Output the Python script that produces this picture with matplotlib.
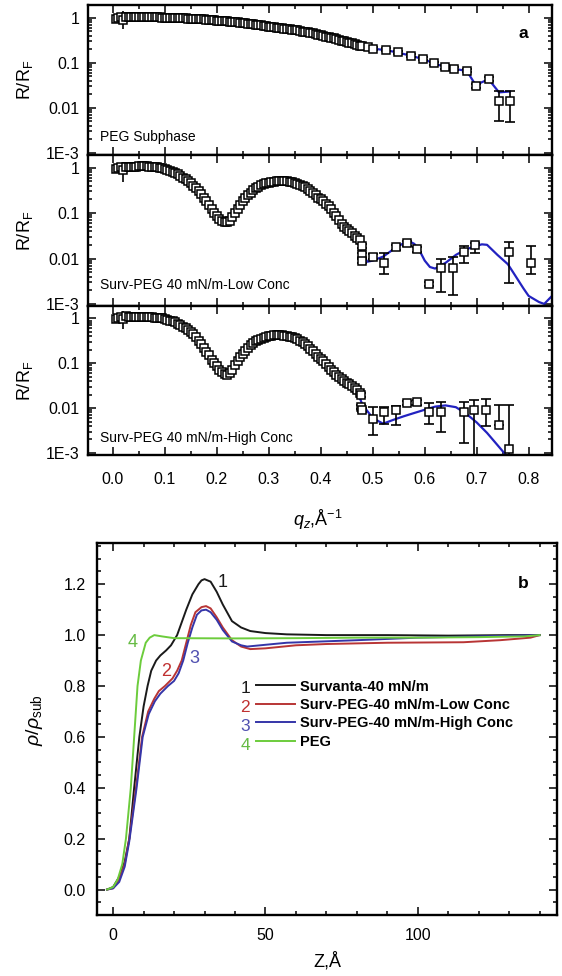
import numpy as np
import matplotlib
matplotlib.use('Agg')
import matplotlib.pyplot as plt
from matplotlib.ticker import FixedLocator, LogLocator, MultipleLocator, NullFormatter, FormatStrFormatter

plt.rcParams['font.family'] = ['Liberation Sans', 'DejaVu Sans']
plt.rcParams['mathtext.fontset'] = 'custom'
plt.rcParams['mathtext.rm'] = 'Liberation Sans'
plt.rcParams['mathtext.it'] = 'Liberation Sans:italic'
plt.rcParams['mathtext.bf'] = 'Liberation Sans:bold'

#------- (a) reflectivity data -------#
q_dense = [0.005, 0.010, 0.015, 0.020, 0.025, 0.030, 0.035, 0.040, 0.045, 0.050,
           0.055, 0.060, 0.065, 0.070, 0.075, 0.080, 0.085, 0.090, 0.095, 0.100,
           0.105, 0.110, 0.115, 0.120, 0.125, 0.130, 0.135, 0.140, 0.145, 0.150,
           0.155, 0.160, 0.165, 0.170, 0.175, 0.180, 0.185, 0.190, 0.195, 0.200,
           0.205, 0.210, 0.215, 0.220, 0.225, 0.230, 0.235, 0.240, 0.245, 0.250,
           0.255, 0.260, 0.265, 0.270, 0.275, 0.280, 0.285, 0.290, 0.295, 0.300,
           0.305, 0.310, 0.315, 0.320, 0.325, 0.330, 0.335, 0.340, 0.345, 0.350,
           0.355, 0.360, 0.365, 0.370, 0.375, 0.380, 0.385, 0.390, 0.395, 0.400,
           0.405, 0.410, 0.415, 0.420, 0.425, 0.430, 0.435, 0.440, 0.445, 0.450,
           0.455, 0.460, 0.465, 0.470, 0.475]

# PEG subphase
r_peg = [0.95, 1.0, 1.05, 0.9, 1.05, 1.03, 1.04, 1.04, 1.04, 1.04,
         1.03, 1.03, 1.03, 1.03, 1.02, 1.02, 1.02, 1.01, 1.0, 1.0,
         0.99, 0.99, 0.98, 0.98, 0.97, 0.97, 0.96, 0.96, 0.95, 0.95,
         0.94, 0.93, 0.93, 0.92, 0.91, 0.9, 0.89, 0.88, 0.87, 0.86,
         0.85, 0.84, 0.83, 0.82, 0.81, 0.8, 0.79, 0.78, 0.77, 0.76,
         0.75, 0.73, 0.72, 0.71, 0.70, 0.68, 0.67, 0.65, 0.64, 0.63,
         0.62, 0.61, 0.60, 0.59, 0.58, 0.57, 0.56, 0.55, 0.54, 0.53,
         0.52, 0.50, 0.49, 0.48, 0.47, 0.46, 0.45, 0.43, 0.42, 0.41,
         0.40, 0.38, 0.37, 0.36, 0.35, 0.33, 0.32, 0.31, 0.30, 0.29,
         0.28, 0.27, 0.26, 0.25, 0.24]
q_peg_sp = [0.48, 0.49, 0.50, 0.525, 0.548, 0.573, 0.597, 0.618, 0.639, 0.656,
            0.681, 0.698, 0.723, 0.743, 0.764]
r_peg_sp = [0.235, 0.22, 0.205, 0.195, 0.17, 0.143, 0.123, 0.096, 0.08, 0.074,
            0.067, 0.031, 0.044, 0.0145, 0.0145]
lo_peg_sp = [0.22, 0.205, 0.19, 0.18, 0.157, 0.132, 0.113, 0.088, 0.073, 0.068,
             0.061, 0.028, 0.040, 0.0052, 0.0049]
hi_peg_sp = [0.25, 0.235, 0.22, 0.21, 0.183, 0.154, 0.133, 0.104, 0.087, 0.08,
             0.073, 0.034, 0.048, 0.024, 0.024]
q_peg_fit = [0.44, 0.47, 0.50, 0.525, 0.548, 0.573, 0.597, 0.618, 0.639, 0.656,
             0.681, 0.698, 0.723, 0.743, 0.764]
r_peg_fit = [0.31, 0.25, 0.205, 0.19, 0.168, 0.143, 0.12, 0.097, 0.08, 0.073,
             0.066, 0.032, 0.043, 0.022, 0.023]

# Surv-PEG low conc
r_low = [0.95, 1.0, 1.05, 0.9, 1.05, 1.05, 1.06, 1.06, 1.06, 1.07,
         1.07, 1.07, 1.07, 1.06, 1.05, 1.04, 1.02, 1.0, 0.97, 0.93,
         0.89, 0.84, 0.8, 0.75, 0.71, 0.66, 0.6, 0.55, 0.5, 0.45,
         0.4, 0.35, 0.3, 0.26, 0.22, 0.18, 0.15, 0.12, 0.1, 0.085,
         0.075, 0.068, 0.064, 0.063, 0.068, 0.08, 0.098, 0.12, 0.15, 0.18,
         0.21, 0.25, 0.28, 0.32, 0.35, 0.38, 0.41, 0.43, 0.45, 0.47,
         0.48, 0.49, 0.5, 0.5, 0.5, 0.5, 0.5, 0.49, 0.48, 0.46,
         0.44, 0.42, 0.4, 0.37, 0.34, 0.31, 0.28, 0.25, 0.22, 0.2,
         0.18, 0.16, 0.14, 0.12, 0.1, 0.085, 0.07, 0.058, 0.05, 0.045,
         0.04, 0.036, 0.032, 0.028, 0.025]
q_low_sp = [0.479, 0.479, 0.48, 0.50, 0.521, 0.544, 0.566, 0.586, 0.608, 0.631,
            0.654, 0.675, 0.697, 0.763, 0.805]
r_low_sp = [0.019, 0.0117, 0.009, 0.011, 0.0081, 0.0175, 0.0216, 0.016, 0.0028, 0.0063,
            0.0063, 0.0136, 0.0195, 0.0136, 0.0081]
lo_low_sp = [0.017, 0.0105, 0.008, 0.0098, 0.0046, 0.0155, 0.019, 0.0142, 0.0025, 0.0018,
             0.0016, 0.008, 0.013, 0.0029, 0.0045]
hi_low_sp = [0.021, 0.013, 0.010, 0.0124, 0.013, 0.0197, 0.024, 0.018, 0.0031, 0.010,
             0.0108, 0.019, 0.022, 0.023, 0.019]
q_low_fit = [0.44, 0.46, 0.47, 0.48, 0.49, 0.50, 0.52, 0.54, 0.56, 0.57,
             0.58, 0.59, 0.60, 0.61, 0.62, 0.64, 0.66, 0.68, 0.70, 0.71,
             0.72, 0.74, 0.76, 0.77, 0.79, 0.80, 0.82, 0.83, 0.845]
r_low_fit = [0.058, 0.036, 0.026, 0.012, 0.0085, 0.009, 0.011, 0.016, 0.022, 0.024,
             0.021, 0.015, 0.009, 0.0065, 0.006, 0.008, 0.012, 0.016, 0.019, 0.0205,
             0.02, 0.012, 0.0075, 0.005, 0.0022, 0.0015, 0.0011, 0.001, 0.0015]

# Surv-PEG high conc
r_high = [0.95, 1.0, 1.1, 0.95, 1.15, 1.1, 1.1, 1.1, 1.1, 1.1,
          1.1, 1.09, 1.09, 1.08, 1.07, 1.05, 1.04, 1.02, 1.0, 0.97,
          0.94, 0.9, 0.86, 0.82, 0.77, 0.72, 0.66, 0.6, 0.55, 0.5,
          0.44, 0.38, 0.32, 0.27, 0.22, 0.18, 0.15, 0.12, 0.1, 0.085,
          0.072, 0.064, 0.058, 0.056, 0.062, 0.072, 0.09, 0.11, 0.135, 0.16,
          0.19, 0.22, 0.25, 0.28, 0.31, 0.33, 0.35, 0.37, 0.39, 0.40,
          0.41, 0.42, 0.42, 0.42, 0.42, 0.41, 0.40, 0.39, 0.38, 0.36,
          0.34, 0.32, 0.3, 0.27, 0.24, 0.21, 0.185, 0.16, 0.14, 0.125,
          0.11, 0.095, 0.083, 0.072, 0.063, 0.055, 0.049, 0.044, 0.04, 0.037,
          0.034, 0.031, 0.028, 0.025, 0.022]
q_high_sp = [0.477, 0.477, 0.48, 0.50, 0.521, 0.544, 0.566, 0.586, 0.608, 0.631,
             0.675, 0.695, 0.718, 0.743, 0.763]
r_high_sp = [0.0195, 0.0105, 0.009, 0.0057, 0.0081, 0.009, 0.0129, 0.0136, 0.0081, 0.0081,
             0.0081, 0.009, 0.009, 0.0042, 0.0012]
lo_high_sp = [0.0175, 0.0095, 0.008, 0.0025, 0.0045, 0.0041, 0.0115, 0.012, 0.0045, 0.003,
              0.0017, 0.0008, 0.004, 0.0042, 0.0008]
hi_high_sp = [0.022, 0.0118, 0.010, 0.0105, 0.0105, 0.011, 0.0145, 0.0152, 0.013, 0.014,
              0.014, 0.015, 0.016, 0.012, 0.0117]
q_high_fit = [0.44, 0.46, 0.47, 0.48, 0.50, 0.52, 0.54, 0.56, 0.58, 0.60,
              0.62, 0.64, 0.66, 0.68, 0.70, 0.72, 0.74, 0.76, 0.78]
r_high_fit = [0.044, 0.031, 0.024, 0.012, 0.006, 0.0045, 0.0055, 0.0066, 0.0078, 0.0092,
              0.0108, 0.0115, 0.0105, 0.0075, 0.0048, 0.0028, 0.0015, 0.0008, 0.0005]

# the big low-q error bars
q_lowq_err = [0.02]
peg_lowq = ([0.9], [0.57], [1.4])
low_lowq = ([0.9], [0.49], [1.35])
high_lowq = ([0.95], [0.57], [1.45])

panel_names = ['PEG Subphase', 'Surv-PEG 40 mN/m-Low Conc', 'Surv-PEG 40 mN/m-High Conc']

#------- (b) density profiles -------#
z_surv = [-2, 0, 2, 3.8, 5.3, 6.9, 8.6, 10, 11.3, 12.5, 14.1, 15.5, 17.4, 19, 21,
          22.5, 24, 26, 28, 29, 30, 32, 34, 36, 39, 42, 45, 50, 57, 70, 90, 110, 130, 140]
y_surv = [0, 0.01, 0.05, 0.11, 0.2, 0.4, 0.6, 0.72, 0.8, 0.86, 0.9, 0.92, 0.94, 0.96, 1.0,
          1.05, 1.1, 1.16, 1.2, 1.215, 1.22, 1.21, 1.17, 1.12, 1.055, 1.03, 1.016, 1.008,
          1.003, 1.0, 1.0, 0.998, 1.0, 1.0]
z_lowc = [-2, 0, 2, 3.8, 5.3, 7.5, 9.5, 11.5, 13.5, 15, 17, 19.5, 21, 22.5, 24, 25.5, 27,
          29, 30.5, 32, 34, 36, 39, 42, 45, 50, 60, 70, 90, 115, 127, 137, 140]
y_lowc = [0, 0.005, 0.04, 0.1, 0.2, 0.4, 0.6, 0.7, 0.75, 0.78, 0.8, 0.83, 0.86, 0.9, 0.97,
          1.04, 1.09, 1.11, 1.114, 1.105, 1.07, 1.03, 0.98, 0.955, 0.945, 0.948, 0.96,
          0.965, 0.97, 0.972, 0.98, 0.99, 1.0]
z_highc = [-2, 0, 2, 3.8, 5.3, 7.7, 9.7, 11.7, 13.7, 15.5, 18, 20, 21.5, 23, 24.5, 26, 27.5,
           29, 30.5, 32, 34, 36, 39, 42, 44, 50, 57, 80, 100, 120, 140]
y_highc = [0, 0.005, 0.03, 0.09, 0.19, 0.4, 0.6, 0.69, 0.74, 0.77, 0.8, 0.82, 0.85, 0.9, 0.97,
           1.03, 1.08, 1.097, 1.10, 1.09, 1.06, 1.02, 0.975, 0.96, 0.955, 0.962, 0.97, 0.98,
           0.99, 0.995, 1.0]
z_peg = [-2, 0, 1.5, 3, 4.2, 5.0, 5.8, 6.9, 8.0, 9.1, 10.7, 12, 13.5, 16, 20, 40, 60, 80,
         100, 120, 135, 140]
y_peg = [0, 0.01, 0.04, 0.1, 0.2, 0.3, 0.4, 0.6, 0.8, 0.9, 0.97, 0.99, 1.0, 0.995, 0.988,
         0.987, 0.988, 0.99, 0.99, 0.992, 0.995, 1.0]

prof_labels = ['Survanta-40 mN/m', 'Surv-PEG-40 mN/m-Low Conc',
               'Surv-PEG-40 mN/m-High Conc', 'PEG']
prof_colors = ['#1a1a1a', '#b83535', '#3535a8', '#6ccc3c']
num_colors = ['#1a1a1a', '#c03030', '#5050b0', '#66bb44']

fig = plt.figure(figsize=(5.62, 9.76), dpi=100)
W, H = 562.0, 976.0

def px_axes(x0, y0, x1, y1):
    return fig.add_axes([x0 / W, 1 - y1 / H, (x1 - x0) / W, (y1 - y0) / H])

axa = [px_axes(88, 5, 552, 155), px_axes(88, 155, 552, 306), px_axes(88, 306, 552, 455)]
axb = px_axes(97, 543, 557, 915)

def frame(ax, xpad, ypad):
    for s in ax.spines.values():
        s.set_linewidth(1.7)
    ax.tick_params(which='both', direction='in', top=True, right=True, width=1.1,
                   labelsize=11.5)
    ax.tick_params(axis='x', pad=xpad)
    ax.tick_params(axis='y', pad=ypad)
    ax.tick_params(which='major', length=6)
    ax.tick_params(which='minor', length=3)

dense_sets = [r_peg, r_low, r_high]
sp_sets = [(q_peg_sp, r_peg_sp, lo_peg_sp, hi_peg_sp),
           (q_low_sp, r_low_sp, lo_low_sp, hi_low_sp),
           (q_high_sp, r_high_sp, lo_high_sp, hi_high_sp)]
fit_sets = [(q_peg_fit, r_peg_fit), (q_low_fit, r_low_fit), (q_high_fit, r_high_fit)]
lowq_sets = [peg_lowq, low_lowq, high_lowq]
label_y = [0.12, 0.14, 0.114]

mk = dict(marker='s', ms=5.2, mfc='white', mec='black', mew=1.1)

for i, ax in enumerate(axa):
    qf, rf = fit_sets[i]
    ax.plot(qf, rf, color='#2222c0', lw=1.6, zorder=2)
    r0, lo0, hi0 = lowq_sets[i]
    ax.errorbar(q_lowq_err, r0, yerr=[np.array(r0) - lo0, np.array(hi0) - r0],
                fmt='none', ecolor='black', elinewidth=1.2, capsize=0, zorder=3)
    ax.plot(q_dense, dense_sets[i], ls='none', zorder=4, **mk)
    qs, rs, lo, hi = sp_sets[i]
    rs = np.array(rs)
    ax.errorbar(qs, rs, yerr=[rs - np.array(lo), np.array(hi) - rs], fmt='none',
                ecolor='black', elinewidth=1.2, capsize=3.5, capthick=1.2, zorder=3)
    ax.plot(qs, rs, ls='none', zorder=4, **mk)

    ax.set_yscale('log')
    ax.set_ylim(9e-4, 1.9)
    ax.set_xlim(-0.048, 0.845)
    ax.yaxis.set_major_locator(FixedLocator([1e-3, 1e-2, 0.1, 1]))
    ax.set_yticklabels(['1E-3', '0.01', '0.1', '1'])
    ax.yaxis.set_minor_locator(LogLocator(base=10, subs=np.arange(2, 10)))
    ax.yaxis.set_minor_formatter(NullFormatter())
    ax.xaxis.set_major_locator(MultipleLocator(0.1))
    ax.xaxis.set_minor_locator(MultipleLocator(0.05))
    frame(ax, 12, 6)
    if i < 2:
        ax.tick_params(labelbottom=False)
    ax.text(-0.136, 0.5, r'R/R$_\mathregular{F}$', transform=ax.transAxes, rotation=90,
            ha='center', va='center', fontsize=13)
    ax.text(0.026, label_y[i], panel_names[i], transform=ax.transAxes,
            ha='left', va='center', fontsize=10)

axa[0].text(0.9375, 0.813, 'a', transform=axa[0].transAxes, ha='center', va='center',
            fontsize=12.5, fontweight='bold')
axa[2].xaxis.set_major_formatter(FormatStrFormatter('%.1f'))
axa[2].text(0.496, -0.436, r'$q_z$,Å$^{-1}$', transform=axa[2].transAxes,
            ha='center', va='center', fontsize=13)

#------- panel b -------#
curves = [(z_surv, y_surv), (z_lowc, y_lowc), (z_highc, y_highc), (z_peg, y_peg)]
handles = []
for (zz, yy), c, lab in zip(curves, prof_colors, prof_labels):
    h, = axb.plot(zz, yy, color=c, lw=1.4, label=lab)
    handles.append(h)

axb.set_xlim(-5.3, 145.7)
axb.set_ylim(-0.1, 1.362)
axb.xaxis.set_major_locator(MultipleLocator(50))
axb.xaxis.set_minor_locator(MultipleLocator(10))
axb.yaxis.set_major_locator(MultipleLocator(0.2))
axb.yaxis.set_minor_locator(MultipleLocator(0.05))
axb.yaxis.set_major_formatter(FormatStrFormatter('%.1f'))
frame(axb, 9, 8)

leg = axb.legend(handles=handles, loc='upper left', bbox_to_anchor=(0.346, 0.633),
                 frameon=False, fontsize=10.5, handlelength=2.67, handletextpad=0.34,
                 labelspacing=0.3, borderpad=0, borderaxespad=0)
for t in leg.get_texts():
    t.set_fontweight('bold')
row_y = [0.608, 0.557, 0.506, 0.455]
for k in range(4):
    axb.text(0.333, row_y[k], str(k + 1), transform=axb.transAxes, ha='right',
             va='center', fontsize=12.5, color=num_colors[k])

# curve numbers
axb.text(35.9, 1.205, '1', color=num_colors[0], fontsize=13, ha='center', va='center')
axb.text(17.3, 0.858, '2', color=num_colors[1], fontsize=13, ha='center', va='center')
axb.text(26.6, 0.91, '3', color=num_colors[2], fontsize=13, ha='center', va='center')
axb.text(6.4, 0.97, '4', color=num_colors[3], fontsize=13, ha='center', va='center')

axb.text(0.926, 0.892, 'b', transform=axb.transAxes, ha='center', va='center',
         fontsize=12.5, fontweight='bold')
axb.text(-0.135, 0.524, r'$\rho/\rho_\mathregular{sub}$', transform=axb.transAxes,
         rotation=90, ha='center', va='center', fontsize=14)
axb.text(0.5, -0.125, 'Z,Å', transform=axb.transAxes, ha='center', va='center',
         fontsize=13)

fig.savefig('out.png', dpi=100)
